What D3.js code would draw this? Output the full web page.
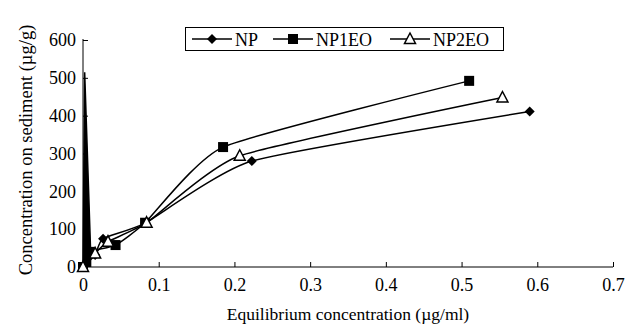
<!DOCTYPE html>
<html>
<head>
<meta charset="utf-8">
<script src="https://cdn.jsdelivr.net/npm/d3@7"></script>
<style>
  body { margin: 0; background: #fff; }
  text { font-family: "Liberation Serif", "DejaVu Serif", serif; fill: #000; }
  .axis path, .axis line { stroke: #000; stroke-width: 1; }
</style>
</head>
<body>
<div id="chart"></div>
<script>
// values
const seriesNames = ["NP", "NP1EO", "NP2EO"];
const npX = [0, 0.016, 0.0265, 0.082, 0.223, 0.59];
const npY = [0, 32, 75, 116, 280, 411];
const np1eoX = [0, 0.009, 0.043, 0.082, 0.185, 0.51];
const np1eoY = [0, 40, 58, 117, 317, 492];
const np2eoX = [0, 0.016, 0.033, 0.084, 0.207, 0.554];
const np2eoY = [0, 36, 67, 117, 294, 448];
// smoothing overshoot near the origin (drawn in the original)
const spikeX = [0, 0.0022, 0.01, 0.01];
const spikeY = [0, 515, 45, 0];
const xTicks = [0, 0.1, 0.2, 0.3, 0.4, 0.5, 0.6, 0.7];
const yTicks = [0, 100, 200, 300, 400, 500, 600];

const width = 627, height = 326;
const margin = { top: 40, right: 14, bottom: 59, left: 83 };
const innerW = width - margin.left - margin.right;
const innerH = height - margin.top - margin.bottom;
const serif = '"Liberation Serif", "DejaVu Serif", serif';

const svg = d3.select("#chart").append("svg")
  .attr("width", width)
  .attr("height", height);

const chart = svg.append("g")
  .attr("transform", `translate(${margin.left}, ${margin.top})`);

const xScale = d3.scaleLinear().domain([0, 0.7]).range([0, innerW]);
const yScale = d3.scaleLinear().domain([0, 600]).range([innerH, 0]);

// axes, ticks pointing inward
chart.append("g")
  .attr("class", "axis x")
  .attr("transform", `translate(0, ${innerH})`)
  .call(d3.axisBottom(xScale).tickValues(xTicks).tickSize(-5).tickPadding(11)
    .tickFormat(d => d === 0 ? "0" : d3.format(".1f")(d)));

chart.append("g")
  .attr("class", "axis y")
  .call(d3.axisLeft(yScale).tickValues(yTicks).tickSize(-5).tickPadding(7));

chart.selectAll(".axis")
  .attr("font-family", serif)
  .attr("font-size", 18);

chart.selectAll(".axis .domain").attr("d", function () {
  return d3.select(this.parentNode).classed("x")
    ? `M0,0H${innerW}` : `M0,${innerH}V-1`;
});

// spike artefact
chart.append("path")
  .datum(spikeX.map((x, i) => [x, spikeY[i]]))
  .attr("d", d3.line().x(d => xScale(d[0])).y(d => yScale(d[1])))
  .attr("fill", "#000")
  .attr("stroke", "#000")
  .attr("stroke-width", 1.5);

const data = [
  { name: seriesNames[0], xs: npX, ys: npY, marker: "diamond" },
  { name: seriesNames[1], xs: np1eoX, ys: np1eoY, marker: "square" },
  { name: seriesNames[2], xs: np2eoX, ys: np2eoY, marker: "triangle" }
];

const line = d3.line()
  .x(d => xScale(d[0]))
  .y(d => yScale(d[1]))
  .curve(d3.curveCardinal.tension(0.5));

function drawMarker(g, type, x, y) {
  if (type === "diamond") {
    g.append("path")
      .attr("d", `M${x},${y - 5}L${x + 5},${y}L${x},${y + 5}L${x - 5},${y}Z`)
      .attr("fill", "#000");
  } else if (type === "square") {
    g.append("rect")
      .attr("x", x - 5).attr("y", y - 5)
      .attr("width", 10).attr("height", 10)
      .attr("fill", "#000");
  } else {
    g.append("path")
      .attr("d", `M${x},${y - 6}L${x + 5.5},${y + 4.5}L${x - 5.5},${y + 4.5}Z`)
      .attr("fill", "#fff")
      .attr("stroke", "#000")
      .attr("stroke-width", 1.5);
  }
}

data.forEach(s => {
  const pts = s.xs.map((x, i) => [x, s.ys[i]]);
  chart.append("path")
    .datum(pts)
    .attr("d", line)
    .attr("fill", "none")
    .attr("stroke", "#000")
    .attr("stroke-width", 1.5);
});
data.forEach(s => {
  const g = chart.append("g");
  s.xs.forEach((x, i) => drawMarker(g, s.marker, xScale(x), yScale(s.ys[i])));
});

// legend
const legend = svg.append("g");
legend.append("rect")
  .attr("x", 185.5).attr("y", 27.5)
  .attr("width", 318).attr("height", 23)
  .attr("fill", "#fff")
  .attr("stroke", "#000");

const legendX = [192, 273, 390];
data.forEach((s, i) => {
  const lx = legendX[i];
  legend.append("line")
    .attr("x1", lx).attr("x2", lx + 40)
    .attr("y1", 39).attr("y2", 39)
    .attr("stroke", "#000").attr("stroke-width", 1.5);
  drawMarker(legend, s.marker, lx + 20, 39);
  legend.append("text")
    .attr("x", lx + 43).attr("y", 45.5)
    .attr("font-family", serif)
    .attr("font-size", 18)
    .text(s.name);
});

// axis labels
svg.append("text")
  .attr("text-anchor", "middle")
  .attr("x", 348).attr("y", 320)
  .attr("font-family", serif)
  .attr("font-size", 17.5)
  .text("Equilibrium concentration (\u00b5g/ml)");

svg.append("text")
  .attr("text-anchor", "middle")
  .attr("transform", "translate(32, 150) rotate(-90)")
  .attr("font-family", serif)
  .attr("font-size", 18.5)
  .text("Concentration on sediment (\u00b5g/g)");
</script>
</body>
</html>
